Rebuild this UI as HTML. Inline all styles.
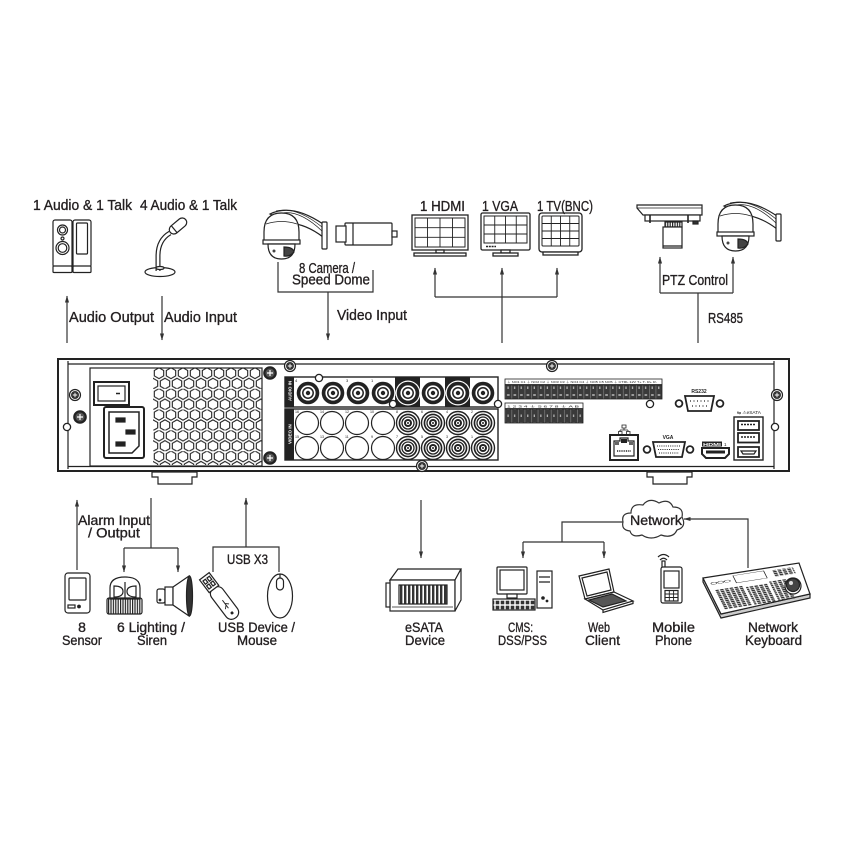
<!DOCTYPE html>
<html><head><meta charset="utf-8"><title>NVR connection diagram</title>
<style>html,body{margin:0;padding:0;background:#fff;width:850px;height:850px;overflow:hidden}svg{display:block}</style></head>
<body>
<svg xmlns="http://www.w3.org/2000/svg" width="850" height="850" viewBox="0 0 850 850" font-family="'Liberation Sans', sans-serif">
<defs>
 <marker id="ah" viewBox="0 0 10 10" refX="9.5" refY="5" markerWidth="7" markerHeight="7" markerUnits="userSpaceOnUse" orient="auto"><path d="M0,2 L10,5 L0,8 Z" fill="#333"/></marker>
 <pattern id="hex" x="153" y="368" width="12" height="20.8" patternUnits="userSpaceOnUse">
  <g fill="none" stroke="#222" stroke-width="1.1">
   <polygon points="6,-0.2 10.7,2.5 10.7,7.9 6,10.6 1.3,7.9 1.3,2.5"/>
   <polygon points="0,10.2 4.7,12.9 4.7,18.3 0,21 -4.7,18.3 -4.7,12.9"/>
   <polygon points="12,10.2 16.7,12.9 16.7,18.3 12,21 7.3,18.3 7.3,12.9"/>
  </g>
 </pattern>
 <pattern id="tb" x="505" y="385" width="6.55" height="14" patternUnits="userSpaceOnUse">
  <rect width="6.55" height="14" fill="#3a3a3a"/>
  <rect x="0" y="0" width="0.6" height="14" fill="#888"/>
  <rect x="2.5" y="1.5" width="1.2" height="2.5" fill="#bbb"/>
  <rect x="2" y="9.5" width="2.6" height="1" fill="#fff"/>
 </pattern>
 <pattern id="keys" width="5" height="5" patternUnits="userSpaceOnUse">
  <rect x="0.7" y="0.7" width="3.6" height="3.6" fill="#333"/>
 </pattern>
 <pattern id="ribs" width="2.4" height="10" patternUnits="userSpaceOnUse">
  <rect width="1.2" height="10" fill="#222"/>
 </pattern>
 <pattern id="bay" width="4" height="10" patternUnits="userSpaceOnUse">
  <rect width="2.4" height="10" fill="#333"/>
 </pattern>
 <g id="bncA">
  <circle r="12.5" fill="#fff"/>
  <circle r="11.3" fill="#222"/>
  <circle r="7.6" fill="#fff"/>
  <circle r="5.2" fill="none" stroke="#222" stroke-width="1.5"/>
  <circle r="2.2" fill="#222"/>
 </g>
 <g id="bncV">
  <circle r="11.5" fill="#fff" stroke="#222" stroke-width="1.4"/>
  <circle r="9.4" fill="#222"/>
  <circle r="7.7" fill="#fff"/>
  <circle r="6" fill="none" stroke="#222" stroke-width="1.3"/>
  <circle r="4" fill="#222"/>
  <circle r="2" fill="#fff"/>
  <circle r="1" fill="#222"/>
 </g>
 <g id="emp"><circle r="11.5" fill="#fff" stroke="#222" stroke-width="1.2"/></g>
 <g id="scr">
  <circle r="5.5" fill="#fff" stroke="#222" stroke-width="1.2"/>
  <circle r="4" fill="#333"/>
  <path d="M-2.2 0H2.2M0 -2.2V2.2" stroke="#fff" stroke-width="0.9"/>
 </g>
 <g id="scrB">
  <circle r="6.8" fill="#222"/>
  <circle r="4.5" fill="#555"/>
  <path d="M-3 0H3M0 -3V3" stroke="#fff" stroke-width="1.2"/>
 </g>
 <g id="hole"><circle r="3.6" fill="#fff" stroke="#222" stroke-width="1.3"/></g>
 <g id="dome" fill="#fff" stroke="#222" stroke-width="1.2">
  <path d="M270 214 Q292 203 323 224 L323 237 Q306 224 289 223 Z"/>
  <path d="M276 211 Q296 206 322 227 M282 213 Q300 210 322 231" fill="none" stroke-width="0.7"/>
  <rect x="322" y="222" width="5" height="27" rx="1"/>
  <path d="M264 241 L264 232 Q264 213 281.5 213 Q299 213 299 232 L299 241 Z"/>
  <path d="M266 224 Q281.5 219 297 224" fill="none" stroke-width="0.7"/>
  <rect x="263" y="240" width="37" height="4"/>
  <path d="M268 244 Q268 259 281.5 259 Q295 259 295 244 Z"/>
  <path d="M284 247 Q293 247 294 252 Q290 257 284 256 Z" fill="#444"/>
  <circle cx="274" cy="251" r="1.5" fill="#444" stroke="none"/>
 </g>
</defs>

<rect width="850" height="850" fill="#fff"/>

<!-- ================= TOP ICONS ================= -->
<g stroke="#222" fill="#fff" stroke-width="1.2">
 <rect x="53" y="220" width="19" height="47" rx="2"/>
 <rect x="53" y="266" width="19" height="6.5" rx="1"/>
 <circle cx="62.5" cy="230" r="5"/><circle cx="62.5" cy="230" r="3"/>
 <circle cx="62.5" cy="238.5" r="1.5"/>
 <circle cx="62.5" cy="248" r="6.5"/><circle cx="62.5" cy="248" r="4.3"/>
 <rect x="73" y="220" width="18" height="47" rx="2"/>
 <rect x="73" y="266" width="18" height="6.5" rx="1"/>
 <rect x="76.5" y="223" width="11" height="31" rx="1"/>
</g>
<g stroke="#222" fill="#fff" stroke-width="1.2">
 <ellipse cx="160" cy="272" rx="15" ry="4.5"/>
 <path d="M158 271 L158 256 Q158 240 170 233" fill="none" stroke="#222" stroke-width="5"/>
 <path d="M158 271 L158 256 Q158 240 170 233" fill="none" stroke="#fff" stroke-width="2.6"/>
 <ellipse cx="160" cy="268" rx="4" ry="1.5"/>
 <g transform="translate(178 226) rotate(-40)">
  <rect x="-10" y="-4.5" width="20" height="9" rx="4.5"/>
  <path d="M-5 -4.3 V4.3" fill="none"/>
 </g>
</g>
<use href="#dome"/>
<g stroke="#222" fill="#fff" stroke-width="1.2">
 <rect x="345" y="223" width="47" height="22" rx="1"/>
 <rect x="336" y="226" width="10" height="16"/>
 <path d="M353 223 V245" fill="none"/>
 <rect x="392" y="231" width="5" height="6"/>
</g>
<g stroke="#222" fill="#fff" stroke-width="1.3">
 <rect x="412" y="215" width="56" height="35"/>
 <rect x="415" y="218" width="50" height="29" stroke-width="1"/>
 <path d="M427.5 218V247M440 218V247M452.5 218V247M415 227.7H465M415 237.3H465" fill="none" stroke-width="0.9"/>
 <rect x="436" y="250" width="8" height="3"/>
 <rect x="414" y="253" width="52" height="3"/>

 <rect x="481" y="213" width="49" height="37" rx="1.5"/>
 <rect x="484" y="216" width="43" height="27" stroke-width="1"/>
 <path d="M494.75 216V243M505.5 216V243M516.25 216V243M484 225H527M484 234H527" fill="none" stroke-width="0.9"/>
 <path d="M486 246.5H496" stroke-width="1.6" stroke-dasharray="2 0.8"/>
 <rect x="501" y="250" width="9" height="3"/>
 <rect x="493" y="253" width="25" height="3"/>

 <rect x="539" y="213" width="43" height="39" rx="3"/>
 <rect x="542" y="216" width="37" height="30" rx="1" stroke-width="1"/>
 <path d="M551.25 216V246M560.5 216V246M569.75 216V246M542 223.5H579M542 231H579M542 238.5H579" fill="none" stroke-width="0.9"/>
 <rect x="543" y="252" width="35" height="3"/>
</g>
<g stroke="#222" fill="#fff" stroke-width="1.2">
 <path d="M637 205 H702 V215 H643 L637 208 Z"/>
 <path d="M637 208 H702" fill="none" stroke-width="0.8"/>
 <rect x="645" y="215" width="55" height="6"/>
 <path d="M650 215 V223 M688 215 V223" fill="none" stroke-width="1.6"/>
 <rect x="693" y="221" width="5" height="3" fill="#333"/>
 <rect x="665" y="222" width="17" height="5" fill="url(#ribs)"/>
 <rect x="663" y="227" width="19" height="21"/>
 <path d="M663 246 H682" fill="none"/>
</g>
<use href="#dome" transform="translate(454 -8)"/>

<!-- ================= TOP CONNECTORS ================= -->
<g stroke="#333" stroke-width="1.2" fill="none">
 <line x1="67" y1="343" x2="67" y2="296" marker-end="url(#ah)"/>
 <line x1="162" y1="296" x2="162" y2="340" marker-end="url(#ah)"/>
 <polyline points="278,262 278,292 373,292 373,270"/>
 <line x1="328" y1="292" x2="328" y2="340" marker-end="url(#ah)"/>
 <line x1="502" y1="343" x2="502" y2="268" marker-end="url(#ah)"/>
 <line x1="435" y1="297" x2="557" y2="297"/>
 <line x1="435" y1="297" x2="435" y2="268" marker-end="url(#ah)"/>
 <line x1="557" y1="297" x2="557" y2="268" marker-end="url(#ah)"/>
 <line x1="698" y1="343" x2="698" y2="293"/>
 <line x1="660" y1="293" x2="733" y2="293"/>
 <line x1="660" y1="293" x2="660" y2="257" marker-end="url(#ah)"/>
 <line x1="733" y1="293" x2="733" y2="257" marker-end="url(#ah)"/>
</g>

<!-- ================= TOP LABELS ================= -->
<g fill="#231f20" stroke="#231f20" stroke-width="0.35" font-size="15">
 <text x="33" y="210" textLength="99" lengthAdjust="spacingAndGlyphs">1 Audio  &amp; 1 Talk</text>
 <text x="140" y="210" textLength="97" lengthAdjust="spacingAndGlyphs">4 Audio &amp; 1 Talk</text>
 <text x="69" y="322" textLength="85" lengthAdjust="spacingAndGlyphs">Audio  Output</text>
 <text x="164" y="322" textLength="73" lengthAdjust="spacingAndGlyphs">Audio  Input</text>
 <text x="299" y="273" textLength="56" lengthAdjust="spacingAndGlyphs">8 Camera /</text>
 <text x="292" y="284.5" textLength="78" lengthAdjust="spacingAndGlyphs">Speed Dome</text>
 <text x="337" y="320" textLength="70" lengthAdjust="spacingAndGlyphs">Video Input</text>
 <text x="420" y="211" textLength="45" lengthAdjust="spacingAndGlyphs">1 HDMI</text>
 <text x="482" y="211" textLength="36" lengthAdjust="spacingAndGlyphs">1 VGA</text>
 <text x="537" y="211" textLength="56" lengthAdjust="spacingAndGlyphs">1 TV(BNC)</text>
 <text x="662" y="285" textLength="66" lengthAdjust="spacingAndGlyphs">PTZ Control</text>
 <text x="708" y="323" textLength="35" lengthAdjust="spacingAndGlyphs">RS485</text>
</g>

<!-- ================= CHASSIS ================= -->
<g stroke="#222" stroke-width="1.2" fill="none">
 <rect x="58" y="359" width="731" height="112" fill="#fff" stroke-width="2"/>
 <path d="M68 361 V469 M774 361 V469"/>
 <path d="M68 364 H774 M68 466.5 H774"/>
 <rect x="90" y="368" width="172" height="98" fill="#fff"/>
 <rect x="153" y="368" width="109" height="97" fill="url(#hex)" stroke="none"/>
 <rect x="94" y="382" width="35" height="23" stroke-width="2" fill="#fff"/>
 <rect x="98" y="386" width="27" height="15"/>
 <path d="M116 393.5 H120" stroke-width="1.5"/>
 <rect x="104" y="407" width="40" height="51" rx="2" stroke-width="2" fill="#fff"/>
 <path d="M109 412 H139 V446 L132 453 H109 Z" stroke-width="1.5"/>
 <rect x="116" y="418" width="9" height="4" fill="#222"/>
 <rect x="126" y="430" width="9" height="4" fill="#222"/>
 <rect x="116" y="442" width="9" height="4" fill="#222"/>
 <path d="M152 472 H197 V477 H192 V484 H158 V477 H152 Z" fill="#fff"/>
 <path d="M647 472 H692 V477 H687 V484 H653 V477 H647 Z" fill="#fff"/>
</g>
<use href="#scr" x="75" y="395"/>
<use href="#scrB" x="80" y="417"/>
<use href="#hole" x="67" y="427"/>
<use href="#scrB" x="270" y="373"/>
<use href="#scrB" x="270" y="458"/>
<use href="#scr" x="290" y="366"/>
<use href="#scr" x="552" y="366"/>
<use href="#scr" x="422" y="466"/>
<use href="#scr" x="777" y="395"/>
<use href="#hole" x="775" y="427"/>

<rect x="285" y="377" width="213" height="30" fill="#fff" stroke="#222" stroke-width="1.4"/>
<rect x="285" y="377" width="9" height="30" fill="#222"/>
<rect x="395" y="377" width="25" height="30" fill="#222"/>
<rect x="445" y="377" width="25" height="30" fill="#222"/>
<use href="#bncA" x="308" y="393"/>
<use href="#bncA" x="333" y="393"/>
<use href="#bncA" x="358" y="393"/>
<use href="#bncA" x="383" y="393"/>
<use href="#bncA" x="408" y="393"/>
<use href="#bncA" x="433" y="393"/>
<use href="#bncA" x="458" y="393"/>
<use href="#bncA" x="483" y="393"/>
<text transform="translate(291.5 401) rotate(-90)" font-size="4.5" font-weight="bold" fill="#fff">AUDIO IN</text>
<g font-size="4" fill="#222">
 <text x="295" y="382">4</text><text x="346" y="382">3</text><text x="371" y="382">1</text>
</g>
<use href="#hole" x="319" y="378"/>

<rect x="285" y="409" width="213" height="51" fill="#fff" stroke="#222" stroke-width="1.4"/>
<rect x="285" y="409" width="9" height="51" fill="#222"/>
<text transform="translate(291.5 444) rotate(-90)" font-size="4.5" font-weight="bold" fill="#fff">VIDEO IN</text>
<use href="#emp" x="307" y="423"/><use href="#emp" x="332" y="423"/><use href="#emp" x="357" y="423"/><use href="#emp" x="383" y="423"/>
<use href="#emp" x="307" y="448"/><use href="#emp" x="332" y="448"/><use href="#emp" x="357" y="448"/><use href="#emp" x="383" y="448"/>
<use href="#bncV" x="408" y="423"/><use href="#bncV" x="433" y="423"/><use href="#bncV" x="458" y="423"/><use href="#bncV" x="483" y="423"/>
<use href="#bncV" x="408" y="448"/><use href="#bncV" x="433" y="448"/><use href="#bncV" x="458" y="448"/><use href="#bncV" x="483" y="448"/>
<g font-size="3.6" fill="#222">
 <text x="295" y="413">16</text><text x="320" y="413">14</text><text x="345" y="413">12</text><text x="370" y="413">10</text>
 <text x="396" y="413">8</text><text x="421" y="413">6</text><text x="446" y="413">4</text><text x="471" y="413">2</text>
 <text x="295" y="438">15</text><text x="320" y="438">13</text><text x="345" y="438">11</text><text x="371" y="438">9</text>
 <text x="396" y="438">7</text><text x="421" y="438">5</text><text x="446" y="438">3</text><text x="471" y="438">1</text>
</g>
<use href="#hole" x="393" y="404"/>
<use href="#hole" x="498" y="404"/>

<rect x="505" y="379" width="157" height="5.5" fill="#fff" stroke="#222" stroke-width="0.8"/>
<rect x="505" y="385" width="157" height="14" fill="url(#tb)" stroke="#222" stroke-width="0.8"/>
<rect x="505" y="403" width="78" height="5.5" fill="#fff" stroke="#222" stroke-width="0.8"/>
<rect x="505" y="409" width="78" height="14" fill="url(#tb)" stroke="#222" stroke-width="0.8"/>
<g font-size="2.6" fill="#222">
 <text x="507" y="383" textLength="150" lengthAdjust="spacingAndGlyphs">⏚ NO1 C1  ⏚ NO2 C2  ⏚ NO3 C3  ⏚ NO4 C4  ⏚ NO5 C5 NO5  ⏚ CTRL 12V   T+ T- R+ R-</text>
 <text x="507" y="407.5" textLength="72" lengthAdjust="spacingAndGlyphs">1  2  3  4  ⏚  5  6  7  8  ⏚  A  B</text>
</g>
<use href="#hole" x="650" y="404"/>

<text x="699" y="393" font-size="5" font-weight="bold" fill="#222" text-anchor="middle">RS232</text>
<g stroke="#222" fill="#fff" stroke-width="1.8">
 <circle cx="679" cy="403.5" r="3.4"/><circle cx="720" cy="403.5" r="3.4"/>
 <path d="M685 396 H714 L711 411 H688 Z"/>
</g>
<path d="M690 401 H709 M692 406 H707" stroke="#222" stroke-width="1.2" stroke-dasharray="1 2.5"/>

<text x="737" y="414" font-size="4.5" fill="#222" textLength="24" lengthAdjust="spacingAndGlyphs">⇆ ⚠eSATA</text>
<g stroke="#222" fill="#fff">
 <rect x="734" y="417" width="29" height="43" stroke-width="1.4"/>
 <rect x="738" y="421" width="21" height="9" stroke-width="1.8"/>
 <rect x="738" y="433" width="21" height="9.5" stroke-width="1.8"/>
 <path d="M738 447 H759 V457 H738 Z" stroke-width="1.8"/>
 <path d="M741 451 H756 L754 454 H743 Z" stroke-width="1.2"/>
</g>
<path d="M741 424.5 H756 M741 437 H756" stroke="#222" stroke-width="1.6" stroke-dasharray="2 1"/>

<g stroke="#222" fill="#fff">
 <path d="M622 425 h4 v3 h-4 z M624 428 v2 M620 430 h8 M620 430 v1.5 M628 430 v1.5 M618.5 431.5 h3.5 v3 h-3.5 z M626.5 431.5 h3.5 v3 h-3.5 z" stroke-width="0.8"/>
 <rect x="610" y="435" width="28" height="25" stroke-width="2"/>
 <path d="M614 441 H620 V438 H628 V441 H634 V456 H614 Z" stroke-width="1.2"/>
</g>
<rect x="621" y="439" width="6" height="4" fill="#222"/>
<rect x="615" y="442" width="4" height="3" fill="#666"/>
<rect x="629" y="442" width="4" height="3" fill="#666"/>
<path d="M617 451 H631" stroke="#222" stroke-width="1.4" stroke-dasharray="1 0.8"/>

<text x="668" y="439" font-size="5" font-weight="bold" fill="#222" text-anchor="middle">VGA</text>
<g stroke="#222" fill="#fff" stroke-width="1.8">
 <circle cx="647" cy="449.5" r="3.4"/><circle cx="690" cy="449.5" r="3.4"/>
 <path d="M653 442 H685 L682 457 H656 Z"/>
</g>
<path d="M657 446 H681 M658 449.5 H680 M659 453 H679" stroke="#222" stroke-width="1.1" stroke-dasharray="1 1.2"/>

<rect x="702" y="441.5" width="20" height="5" fill="#222"/>
<text x="703" y="445.8" font-size="4.6" font-weight="bold" fill="#fff" textLength="18" lengthAdjust="spacingAndGlyphs">HDMI</text>
<text x="724" y="446" font-size="4.5" fill="#222">1</text>
<path d="M702 448 H729 V454 L725 458 H706 L702 454 Z" fill="#fff" stroke="#222" stroke-width="2"/>
<rect x="706" y="450.5" width="19" height="3" fill="#222"/>

<!-- ================= BOTTOM CONNECTORS ================= -->
<g stroke="#333" stroke-width="1.2" fill="none">
 <line x1="77" y1="570" x2="77" y2="500" marker-end="url(#ah)"/>
 <line x1="151" y1="498" x2="151" y2="548"/>
 <line x1="124" y1="548" x2="178" y2="548"/>
 <line x1="124" y1="548" x2="124" y2="572" marker-end="url(#ah)"/>
 <line x1="178" y1="548" x2="178" y2="572" marker-end="url(#ah)"/>
 <line x1="246" y1="547" x2="246" y2="498" marker-end="url(#ah)"/>
 <polyline points="213,572 213,547 279,547 279,572"/>
 <line x1="421" y1="500" x2="421" y2="558" marker-end="url(#ah)"/>
 <polyline points="623,522 562,522 562,542"/>
 <line x1="523" y1="542" x2="604" y2="542"/>
 <line x1="523" y1="542" x2="523" y2="558" marker-end="url(#ah)"/>
 <line x1="604" y1="542" x2="604" y2="558" marker-end="url(#ah)"/>
 <polyline points="748,568 748,519 684,519" marker-end="url(#ah)"/>
</g>

<path d="M630 531 Q621 530 623 522 Q621 513 631 513 Q631 503 643 505 Q649 497 659 503 Q669 498 673 507 Q684 507 682 517 Q687 527 677 530 Q673 539 661 535 Q651 541 642 535 Q632 538 630 531 Z" fill="#fff" stroke="#333" stroke-width="1.2"/>

<!-- ================= BOTTOM ICONS ================= -->
<g stroke="#222" fill="#fff" stroke-width="1.2">
 <rect x="65" y="573" width="25" height="40" rx="3"/>
 <rect x="69" y="578" width="17" height="22" rx="1"/>
 <rect x="68" y="605" width="7" height="3"/>
 <circle cx="79" cy="606.5" r="1.3" fill="#222"/>
 <path d="M110 599 V588 Q110 577 125 577 Q140 577 140 588 V599 Z"/>
 <path d="M114 586 V597 Q123 597 123 591.5 Q123 586 114 586 Z"/>
 <path d="M136 586 V597 Q127 597 127 591.5 Q127 586 136 586 Z"/>
 <path d="M125 582 V598"/>
 <rect x="107" y="598" width="35" height="16" rx="2" fill="url(#ribs)"/>
 <rect x="157" y="589" width="8" height="14" rx="2"/>
 <rect x="165" y="587" width="8" height="18"/>
 <path d="M173 587 L189 576 V616 L173 605 Z"/>
 <ellipse cx="189.5" cy="596" rx="3" ry="20" fill="#333"/>
 <circle cx="160" cy="600" r="0.8" fill="#222"/>
 <g transform="translate(220 597) rotate(53)">
  <rect x="-11" y="-7" width="37" height="14" rx="6.5"/>
  <rect x="-26" y="-6" width="16" height="12"/>
  <rect x="-23" y="-4" width="4" height="3"/><rect x="-23" y="1" width="4" height="3"/>
  <rect x="-17" y="-4" width="4" height="3"/><rect x="-17" y="1" width="4" height="3"/>
  <path d="M4 0 H14 M8 0 L11 -3 M10 0 L13 3" fill="none" stroke-width="0.9"/>
  <circle cx="20" cy="0" r="0.9" fill="#222"/>
 </g>
 <ellipse cx="280" cy="596" rx="12.5" ry="22"/>
 <path d="M280 574 V590" fill="none"/>
 <rect x="276.5" y="578" width="7" height="12" rx="3.5"/>
 <path d="M390 580 L398 569 H461 L455 580 Z"/>
 <rect x="390" y="580" width="65" height="31"/>
 <path d="M455 580 L461 569 V600 L455 611 Z"/>
 <rect x="386" y="583" width="4" height="24"/>
 <rect x="399" y="585" width="48" height="19" fill="url(#bay)"/>
 <path d="M392 607 H453" fill="none" stroke-width="0.8"/>
 <rect x="497" y="567" width="30" height="27" rx="1"/>
 <rect x="500" y="570" width="24" height="20"/>
 <rect x="507" y="594" width="10" height="4"/>
 <rect x="537" y="571" width="15" height="37"/>
 <path d="M539 577 H550 M539 582 H550" fill="none"/>
 <circle cx="543" cy="598" r="1.2" fill="#222"/>
 <circle cx="547" cy="601" r="0.8" fill="#222"/>
 <rect x="493" y="599" width="42" height="11" fill="url(#keys)"/>
 <path d="M579 576 L609 569 L614 592 L585 599 Z"/>
 <path d="M582 578 L607 572 L611 590 L587 596 Z"/>
 <path d="M585 599 L614 592 L633 601 L603 610 Z"/>
 <path d="M589 600 L612 594 L626 601 L603 607 Z" fill="#555"/>
 <path d="M603 610 L603 612.5 L633 603.5 L633 601" fill="none"/>
 <path d="M658 557 Q663.5 552 669 557 M660 560 Q663.5 556.5 667 560" fill="none"/>
 <rect x="662" y="561" width="3" height="7"/>
 <rect x="661" y="567" width="21" height="36" rx="2"/>
 <rect x="664" y="571" width="15" height="17"/>
 <rect x="665" y="590.5" width="13" height="10.5"/>
 <path d="M669.3 590.5 V601 M673.6 590.5 V601 M665 594 H678 M665 597.5 H678" fill="none" stroke-width="0.9"/>
 <path d="M703 582 L721 618 L810 598 L810 594 L721 614 L703 578 Z" fill="#ccc"/>
 <path d="M703 578 L799 563 L810 594 L721 614 Z"/>
 <g transform="matrix(0.96,-0.15,0.18,0.36,703,578)">
  <rect x="6" y="36" width="28" height="54" fill="url(#keys)" stroke="none"/>
  <rect x="37" y="40" width="22" height="50" fill="url(#keys)" stroke="none"/>
  <rect x="62" y="36" width="18" height="54" fill="url(#keys)" stroke="none"/>
  <rect x="30" y="6" width="32" height="20" stroke-width="0.8"/>
  <circle cx="8" cy="18" r="3" stroke-width="0.8"/>
  <circle cx="15" cy="18" r="3" stroke-width="0.8"/>
  <circle cx="22" cy="18" r="3" stroke-width="0.8"/>
  <rect x="70" y="8" width="22" height="18" fill="url(#keys)" stroke="none"/>
 </g>
 <circle cx="793" cy="586" r="8" fill="#fff"/>
 <circle cx="793" cy="585" r="6.5" fill="#444"/>
 <circle cx="791" cy="583" r="2" fill="#ddd" stroke="none"/>
</g>

<!-- ================= BOTTOM LABELS ================= -->
<g fill="#231f20" stroke="#231f20" stroke-width="0.35" font-size="14">
 <text x="78" y="525" textLength="72" lengthAdjust="spacingAndGlyphs">Alarm Input</text>
 <text x="88" y="537.5" textLength="52" lengthAdjust="spacingAndGlyphs">/ Output</text>
 <text x="227" y="564" textLength="41" lengthAdjust="spacingAndGlyphs">USB X3</text>
 <text x="630" y="525" textLength="52" lengthAdjust="spacingAndGlyphs">Network</text>
 <text x="82" y="632" text-anchor="middle">8</text>
 <text x="62" y="645" textLength="40" lengthAdjust="spacingAndGlyphs">Sensor</text>
 <text x="117" y="632" textLength="68" lengthAdjust="spacingAndGlyphs">6 Lighting /</text>
 <text x="137" y="645" textLength="30" lengthAdjust="spacingAndGlyphs">Siren</text>
 <text x="218" y="632" textLength="77" lengthAdjust="spacingAndGlyphs">USB Device /</text>
 <text x="237" y="645" textLength="40" lengthAdjust="spacingAndGlyphs">Mouse</text>
 <text x="405" y="632" textLength="38" lengthAdjust="spacingAndGlyphs">eSATA</text>
 <text x="405" y="645" textLength="40" lengthAdjust="spacingAndGlyphs">Device</text>
 <text x="508" y="632" textLength="25" lengthAdjust="spacingAndGlyphs">CMS:</text>
 <text x="498" y="645" textLength="49" lengthAdjust="spacingAndGlyphs">DSS/PSS</text>
 <text x="588" y="632" textLength="22" lengthAdjust="spacingAndGlyphs">Web</text>
 <text x="585" y="645" textLength="35" lengthAdjust="spacingAndGlyphs">Client</text>
 <text x="652" y="632" textLength="43" lengthAdjust="spacingAndGlyphs">Mobile</text>
 <text x="655" y="645" textLength="37" lengthAdjust="spacingAndGlyphs">Phone</text>
 <text x="748" y="632" textLength="50" lengthAdjust="spacingAndGlyphs">Network</text>
 <text x="745" y="645" textLength="57" lengthAdjust="spacingAndGlyphs">Keyboard</text>
</g>
</svg>
</body></html>
